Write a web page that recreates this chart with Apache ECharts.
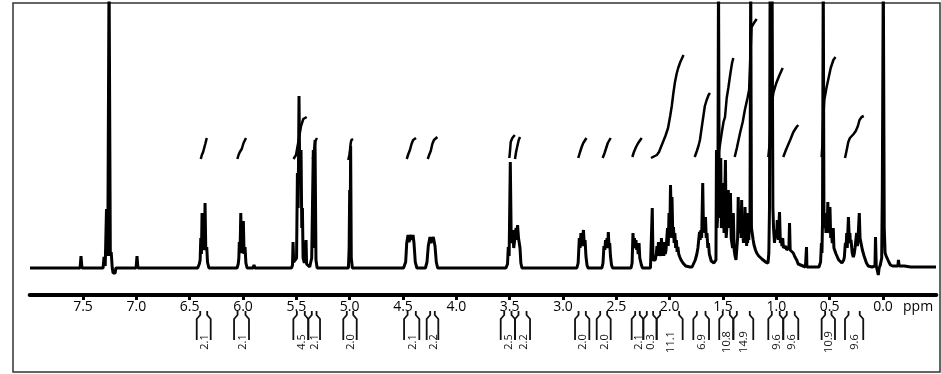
<!DOCTYPE html>
<html><head><meta charset="utf-8">
<script src="https://cdn.jsdelivr.net/npm/echarts@6/dist/echarts.min.js"></script>
<style>html,body{margin:0;padding:0;background:#fff}#c{width:941px;height:374px}</style>
</head><body><div id="c"></div>
<script>
// ppm axis range (inverse) and tick step
const ppmMin = -0.5, ppmMax = 8.0, ppmStep = 0.5;
const intensityMin = -27, intensityMax = 265;

// 1H NMR trace: [ppm, intensity]
const spectrum = [
[7.997,0],[7.528,0],[7.519,12],[7.510,0],
[7.312,0],[7.303,11],[7.292,2],[7.280,59],[7.268,12],[7.256,300],[7.244,12],[7.236,16],[7.226,0],[7.218,-5],[7.199,-5],[7.192,0],
[7.003,0],[6.994,12],[6.985,0],
[6.425,0],[6.41,4],[6.402,8],[6.396,30],[6.39,14],[6.384,55],[6.376,18],[6.368,24],[6.362,20],[6.356,65],[6.349,18],[6.34,21],[6.333,6],[6.32,0],
[6.056,0],[6.045,4],[6.039,10],[6.035,26],[6.028,15],[6.021,55],[6.013,15],[6.004,20],[5.997,47],[5.99,14],[5.981,21],[5.973,5],[5.962,0],
[5.905,0],[5.897,3],[5.889,0],
[5.545,0],[5.536,3],[5.531,26],[5.525,6],[5.51,4],[5.498,10],[5.49,95],[5.483,60],[5.475,172],[5.468,90],[5.462,110],[5.456,118],[5.449,40],[5.443,60],[5.437,10],[5.425,5],[5.412,4],[5.409,28],[5.404,4],[5.39,2],[5.375,1],
[5.362,3],[5.356,10],[5.349,8],[5.341,118],[5.333,20],[5.325,128],[5.316,8],[5.305,0],
[5.012,0],[5.005,20],[5.0,78],[4.995,40],[4.991,122],[4.985,10],[4.975,0],
[4.495,0],[4.475,6],[4.465,25],[4.453,33],[4.444,26],[4.434,30],[4.425,33],[4.415,28],[4.406,33],[4.397,25],[4.385,6],[4.37,0],
[4.29,0],[4.275,6],[4.263,22],[4.247,31],[4.238,25],[4.228,28],[4.216,31],[4.2,22],[4.188,6],[4.175,0],
[3.535,0],[3.52,4],[3.513,21],[3.505,12],[3.494,106],[3.485,25],[3.477,30],[3.471,38],[3.462,20],[3.455,22],[3.44,40],[3.432,28],[3.426,43],[3.417,30],[3.41,32],[3.403,20],[3.395,5],[3.385,0],
[2.87,0],[2.858,5],[2.847,30],[2.84,20],[2.832,35],[2.825,22],[2.817,30],[2.808,38],[2.8,22],[2.793,28],[2.785,12],[2.775,3],[2.765,0],
[2.635,0],[2.625,5],[2.616,22],[2.608,18],[2.601,28],[2.594,20],[2.587,30],[2.58,22],[2.575,36],[2.568,20],[2.562,25],[2.555,12],[2.545,3],[2.535,0],
[2.362,0],[2.352,5],[2.344,35],[2.337,22],[2.33,30],[2.323,20],[2.316,28],[2.309,18],[2.302,22],[2.295,14],[2.287,25],[2.28,10],[2.273,12],[2.265,3],[2.255,0],
[2.18,0],[2.172,2],[2.163,60],[2.156,8],[2.148,6],[2.135,8],[2.125,14],[2.119,22],[2.112,12],[2.105,26],[2.098,14],[2.09,18],[2.083,12],[2.077,30],[2.07,14],[2.062,22],[2.055,12],[2.048,26],[2.041,14],[2.034,18],[2.027,16],[2.02,40],[2.013,22],[2.006,55],[1.999,30],[1.992,83],[1.985,50],[1.978,71],[1.97,30],[1.964,41],[1.958,25],[1.951,35],[1.944,20],[1.937,28],[1.93,16],[1.923,21],[1.915,14],[1.905,11],[1.893,8],[1.875,5],[1.85,2],[1.81,1],
[1.79,1],[1.775,3],[1.76,8],[1.745,14],[1.735,20],[1.728,22],[1.72,36],[1.714,28],[1.707,38],[1.7,30],[1.69,85],[1.683,40],[1.676,45],[1.67,35],[1.664,51],[1.657,30],[1.65,35],[1.642,20],[1.636,25],[1.628,14],[1.62,11],[1.61,7],[1.598,5],[1.585,5],
[1.575,6],[1.566,8],[1.561,118],[1.555,40],[1.548,60],[1.542,300],[1.535,50],[1.53,60],[1.521,110],[1.515,40],[1.509,45],[1.497,85],[1.49,35],[1.486,35],[1.477,108],[1.47,30],[1.465,30],[1.458,50],[1.45,78],[1.444,40],[1.439,40],[1.43,75],[1.423,30],[1.416,30],[1.41,20],[1.403,55],[1.395,18],[1.387,12],[1.378,8],[1.369,10],
[1.363,30],[1.357,71],[1.351,35],[1.345,40],[1.336,55],[1.33,30],[1.325,68],[1.319,30],[1.314,35],[1.308,25],[1.303,50],[1.298,28],[1.293,61],[1.288,25],[1.284,30],[1.278,22],[1.275,55],[1.269,25],[1.264,38],[1.258,28],[1.254,45],[1.247,40],[1.24,300],[1.233,40],[1.226,38],[1.217,28],[1.209,23],[1.195,18],[1.184,15],[1.165,12],[1.153,10],[1.135,9],[1.122,8],[1.1,6],[1.087,5],
[1.078,5],[1.07,15],[1.064,60],[1.058,300],[1.051,120],[1.046,120],[1.04,300],[1.032,60],[1.026,40],[1.017,25],[1.008,38],[0.998,30],[0.991,48],[0.982,28],[0.97,56],[0.962,25],[0.955,30],[0.947,22],[0.94,30],[0.933,20],[0.926,22],[0.919,18],[0.912,22],[0.903,18],[0.895,20],[0.889,18],[0.882,20],[0.876,45],[0.87,18],[0.862,18],[0.852,16],[0.841,15],[0.825,11],[0.809,8],[0.795,4],[0.778,2],[0.727,1],[0.72,1],[0.717,21],[0.713,1],[0.6,1],
[0.595,2],[0.585,6],[0.577,25],[0.572,15],[0.567,45],[0.56,300],[0.553,40],[0.546,45],[0.54,55],[0.535,35],[0.53,45],[0.523,40],[0.517,66],[0.511,35],[0.506,40],[0.501,45],[0.497,61],[0.49,30],[0.483,35],[0.475,25],[0.466,40],[0.46,20],[0.45,21],[0.44,14],[0.427,12],[0.415,8],[0.403,6],[0.385,5],[0.375,5],
[0.368,8],[0.362,11],[0.356,20],[0.352,25],[0.346,20],[0.34,35],[0.335,20],[0.331,22],[0.324,51],[0.316,30],[0.31,35],[0.306,25],[0.3,28],[0.297,30],[0.288,15],[0.278,11],[0.27,14],[0.262,20],[0.256,22],[0.247,35],[0.24,22],[0.236,25],[0.229,40],[0.222,55],[0.215,30],[0.21,32],[0.2,28],[0.193,18],[0.185,15],[0.177,12],[0.169,11],[0.155,5],[0.138,2],[0.103,1],
[0.075,2],[0.07,31],[0.063,2],[0.052,-3],[0.044,-7],[0.036,0],[0.025,3],[0.012,10],[0.006,78],[-0.003,300],[-0.012,40],[-0.02,15],[-0.03,12],[-0.045,11],[-0.055,6],[-0.07,3],[-0.09,2],[-0.14,2],[-0.145,8],[-0.152,2],[-0.2,2],[-0.26,1],[-0.497,1]
];

// integral traces: [ppm, height]
const integralCurves = [
 [[6.396,109],[6.386,113],[6.374,116],[6.364,118],[6.354,124],[6.34,130]],
 [[6.053,109],[6.042,113],[6.03,116],[6.012,119],[5.995,125],[5.972,130]],
 [[5.527,109],[5.503,113],[5.475,130],[5.456,142],[5.435,149],[5.403,151]],
 [[5.345,109],[5.337,114],[5.33,121],[5.322,127],[5.306,130]],
 [[5.013,108],[5.003,113],[4.997,118],[4.99,125],[4.984,128],[4.968,129]],
 [[4.465,109],[4.45,114],[4.435,118],[4.42,124],[4.405,128],[4.378,130]],
 [[4.268,109],[4.255,113],[4.24,117],[4.225,124],[4.21,128],[4.178,131]],
 [[3.503,110],[3.496,118],[3.49,126],[3.475,130],[3.452,133]],
 [[3.45,109],[3.44,116],[3.428,122],[3.415,128],[3.403,131]],
 [[2.857,110],[2.84,116],[2.825,121],[2.81,125],[2.78,130]],
 [[2.628,110],[2.61,115],[2.595,120],[2.58,125],[2.553,130]],
 [[2.35,111],[2.335,116],[2.315,121],[2.295,125],[2.262,130]],
 [[2.175,110],[2.16,112],[2.12,113],[2.1,116],[2.07,124],[2.04,132],[2.015,140],[1.995,152],[1.98,162],[1.965,175],[1.95,186],[1.935,194],[1.92,200],[1.9,206],[1.87,213]],
 [[1.765,111],[1.745,117],[1.73,122],[1.716,128],[1.7,140],[1.685,151],[1.67,162],[1.653,168],[1.635,173],[1.622,175]],
 [[1.548,111],[1.53,122],[1.512,135],[1.495,146],[1.481,151],[1.465,170],[1.45,180],[1.43,195],[1.415,205],[1.403,210]],
 [[1.39,111],[1.37,120],[1.34,135],[1.315,146],[1.295,158],[1.27,170],[1.255,178],[1.242,215],[1.232,241],[1.21,245],[1.184,249]],
 [[1.075,111],[1.062,125],[1.05,150],[1.04,165],[1.028,175],[1.0,185],[0.97,193],[0.94,200]],
 [[0.935,111],[0.91,118],[0.87,128],[0.84,136],[0.81,141],[0.794,143]],
 [[0.575,111],[0.567,125],[0.56,150],[0.55,168],[0.53,180],[0.51,190],[0.49,200],[0.465,208],[0.445,211]],
 [[0.356,110],[0.34,118],[0.325,126],[0.31,130],[0.295,132],[0.275,134],[0.255,137],[0.235,142],[0.22,148],[0.2,151],[0.18,152]]
];

// integration regions: [from ppm, to ppm, integral value]
const integrationRegions = [
 [6.434,6.303,2.1],[6.084,5.944,2.1],[5.528,5.388,4.5],[5.388,5.278,2.1],[5.060,4.934,2.0],
 [4.490,4.347,2.1],[4.278,4.169,2.2],[3.584,3.450,2.5],[3.450,3.309,2.2],[2.887,2.753,2.0],
 [2.684,2.553,2.0],[2.356,2.247,2.1],[2.247,2.122,0.3],[2.122,1.878,11.1],[1.778,1.631,6.9],
 [1.535,1.403,10.8],[1.403,1.216,14.9],[1.075,0.935,9.6],[0.935,0.794,9.6],[0.575,0.450,10.9],
 [0.356,0.185,9.6]
];

const chart = echarts.init(document.getElementById('c'), null, {renderer:'canvas'});
const series = [{
  type:'line', data: spectrum, symbol:'none', clip:true, z:3, silent:true,
  lineStyle:{color:'#000', width:3}
}];
integralCurves.forEach(c => series.push({
  type:'line', data:c, symbol:'none', clip:true, z:4, silent:true,
  lineStyle:{color:'#000', width:2.5}
}));
series.push({
  type:'custom', data: integrationRegions, clip:false, silent:true, z:5,
  encode:{x:[0,1]},
  renderItem(params, api){
    const x1 = api.coord([api.value(0), 0])[0];
    const x2 = api.coord([api.value(1), 0])[0];
    const y0 = api.coord([0, intensityMin])[1];
    const top = y0 + 16, k1 = y0 + 20, k2 = y0 + 24, bot = y0 + 45, hook = 3.5;
    const st = {stroke:'#111', lineWidth:1.8, fill:null};
    return {type:'group', children:[
      {type:'polyline', shape:{points:[[x1+hook,top],[x1+hook,k1],[x1,k2],[x1,bot]]}, style:st},
      {type:'polyline', shape:{points:[[x2-hook,top],[x2-hook,k1],[x2,k2],[x2,bot]]}, style:st},
      {type:'text', x:(x1+x2)/2+1, y:y0+47, rotation:Math.PI/2,
       style:{text: api.value(2).toFixed(1), fill:'#111', fontSize:11, fontFamily:'Open Sans', align:'center', verticalAlign:'middle'}}
    ]};
  }
});

chart.setOption({
  animation:false,
  backgroundColor:'#fff',
  grid:{left:29.7, right:4.7, top:3, bottom:79},
  xAxis:{
    type:'value', min:ppmMin, max:ppmMax, interval:ppmStep, inverse:true,
    axisLine:{show:true, onZero:false, lineStyle:{color:'#000', width:4}},
    axisTick:{show:true, length:5, lineStyle:{color:'#000', width:3}},
    axisLabel:{showMinLabel:false, showMaxLabel:false, margin:5, color:'#000', fontSize:14, fontFamily:'Open Sans',
      formatter: v => (v <= ppmMin || v >= ppmMax) ? '' : v.toFixed(1)},
    splitLine:{show:false}
  },
  yAxis:{type:'value', min:intensityMin, max:intensityMax, show:false, splitLine:{show:false}},
  graphic:[
    {type:'rect', shape:{x:13, y:3, width:927, height:369}, style:{fill:null, stroke:'#333', lineWidth:1.5}, z:0},
    {type:'text', x:903, y:307, style:{text:'ppm', fill:'#000', fontSize:14, fontFamily:'Open Sans', verticalAlign:'middle'}}
  ],
  series
});
</script></body></html>
